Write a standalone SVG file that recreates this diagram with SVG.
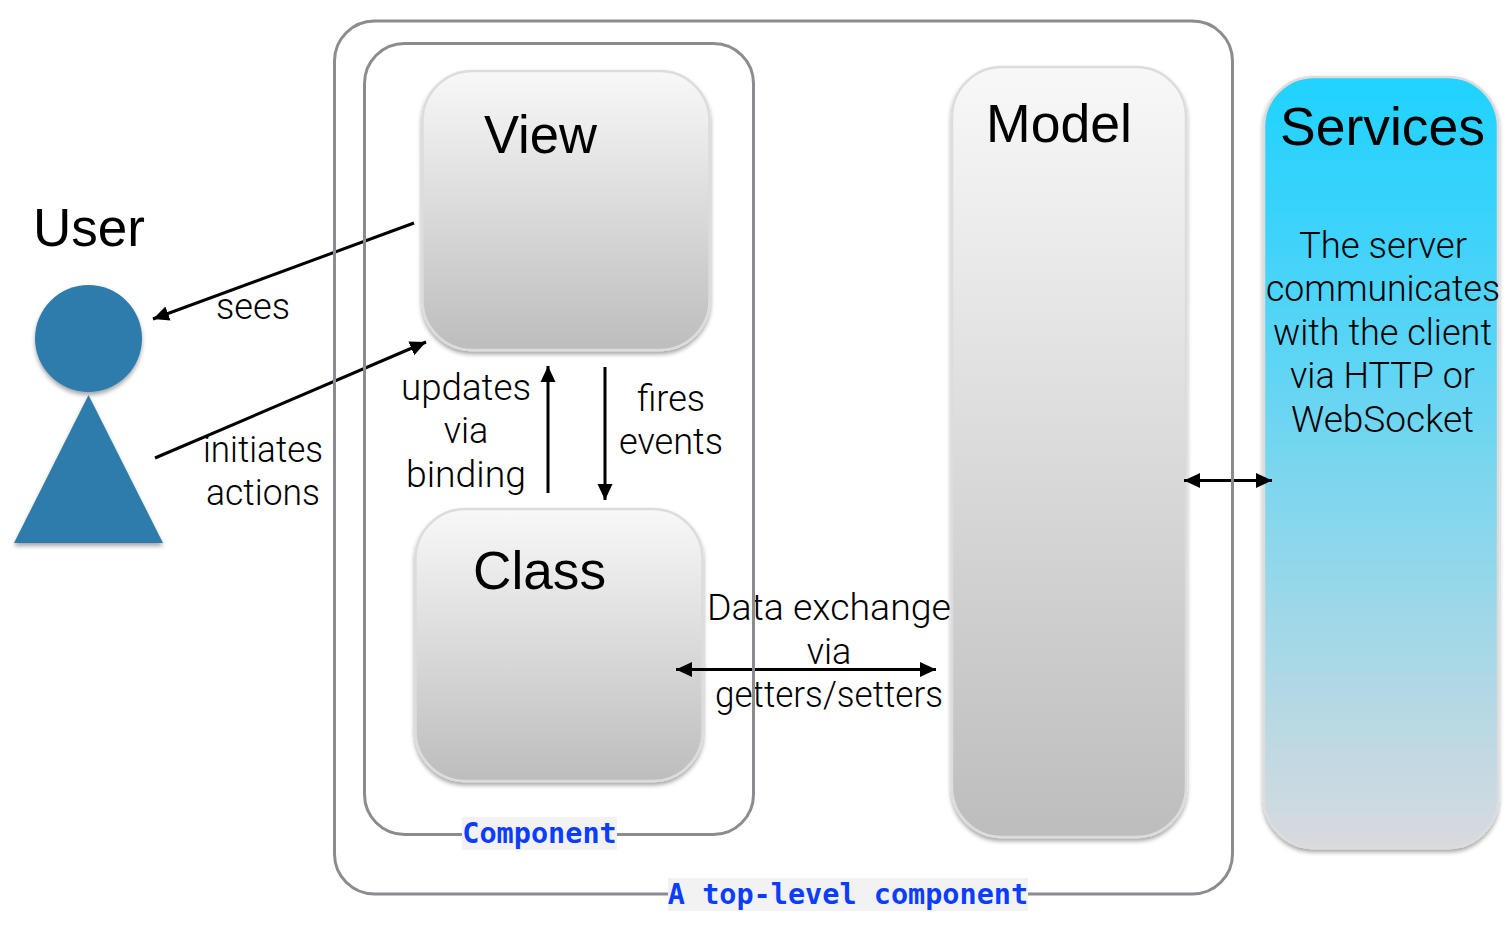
<svg xmlns="http://www.w3.org/2000/svg" width="1512" height="930" viewBox="0 0 1512 930">
<style>
.box{stroke:#dcdcdc;stroke-width:2.5;filter:url(#sh)}
.frame{fill:none;stroke:#8a8c90;stroke-width:3}
.title{font-family:"Liberation Sans",Arial,sans-serif;fill:#000;text-anchor:middle;font-size:54px}
.t{font-family:Roboto,"Liberation Sans",sans-serif;font-weight:300;font-size:36px;fill:#000;text-anchor:middle}
.code{font-family:"DejaVu Sans Mono","Liberation Mono",monospace;font-weight:700;font-size:28.500px;fill:#0b3dff;text-anchor:middle}
.lab{fill:#f2f2f2}
.a{fill:none;stroke:#000;stroke-width:3}
.user{fill:#2f7cab;filter:url(#sh)}
</style>
<defs>
<linearGradient id="g" x1="0" y1="0" x2="0" y2="1"><stop offset="0" stop-color="#f8f8f8"/><stop offset="1" stop-color="#bdbdbd"/></linearGradient>
<linearGradient id="b" x1="0" y1="0" x2="0" y2="1"><stop offset="0" stop-color="#20d2ff"/><stop offset="0.2" stop-color="#3dd3fb"/><stop offset="0.5" stop-color="#78d6ef"/><stop offset="1" stop-color="#d8dade"/></linearGradient>
<filter id="sh" x="-10%" y="-10%" width="120%" height="120%"><feDropShadow dx="0" dy="3" stdDeviation="2" flood-color="#000" flood-opacity="0.35"/></filter>
<marker id="ah" markerUnits="userSpaceOnUse" markerWidth="18" markerHeight="16" refX="16" refY="8" orient="auto-start-reverse"><path d="M0 0.500L16 8L0 15.500Z" fill="#000"/></marker>
</defs>
<g id="view"><rect class="box" x="422.500" y="71" width="287" height="279" rx="50" fill="url(#g)"/><text class="title" x="540.500" y="153" textLength="113" lengthAdjust="spacingAndGlyphs">View</text></g>
<g id="class"><rect class="box" x="415.500" y="509" width="287" height="272" rx="50" fill="url(#g)"/><text class="title" x="539.500" y="589" textLength="133" lengthAdjust="spacingAndGlyphs">Class</text></g>
<g id="model"><rect class="box" x="952" y="67" width="234" height="770" rx="50" fill="url(#g)"/><text class="title" x="1059" y="142" textLength="146" lengthAdjust="spacingAndGlyphs">Model</text></g>
<g id="services"><rect class="box" x="1264" y="77" width="234" height="771" rx="50" fill="url(#b)"/><text class="title" x="1382.500" y="145" textLength="205" lengthAdjust="spacingAndGlyphs">Services</text>
<text class="t" x="1383" y="258" textLength="168" lengthAdjust="spacingAndGlyphs">The server</text><text class="t" x="1383" y="301" textLength="234" lengthAdjust="spacingAndGlyphs">communicates</text><text class="t" x="1382.500" y="345" textLength="219" lengthAdjust="spacingAndGlyphs">with the client</text><text class="t" x="1382.500" y="388" textLength="185" lengthAdjust="spacingAndGlyphs">via HTTP or</text><text class="t" x="1382.500" y="432" textLength="183" lengthAdjust="spacingAndGlyphs">WebSocket</text></g>
<g id="user"><circle class="user" cx="88.500" cy="338.500" r="53.500"/><path class="user" d="M88.500 395L163 543H14Z"/><text class="title" x="89" y="246" textLength="112" lengthAdjust="spacingAndGlyphs">User</text></g>
<g id="labels"><text class="t" x="253" y="319" textLength="74" lengthAdjust="spacingAndGlyphs">sees</text><text class="t" x="263" y="462" textLength="120" lengthAdjust="spacingAndGlyphs">initiates</text><text class="t" x="263" y="505" textLength="114" lengthAdjust="spacingAndGlyphs">actions</text>
<text class="t" x="466" y="400" textLength="130" lengthAdjust="spacingAndGlyphs">updates</text><text class="t" x="466" y="443">via</text><text class="t" x="466" y="487" textLength="120" lengthAdjust="spacingAndGlyphs">binding</text>
<text class="t" x="671" y="411">fires</text><text class="t" x="671" y="454" textLength="104" lengthAdjust="spacingAndGlyphs">events</text>
<text class="t" x="829" y="620" textLength="244" lengthAdjust="spacingAndGlyphs">Data exchange</text><text class="t" x="829" y="664">via</text><text class="t" x="829" y="707" textLength="228" lengthAdjust="spacingAndGlyphs">getters/setters</text></g>
<g id="connectors">
<path class="a" marker-end="url(#ah)" d="M414 223L153 319"/>
<path class="a" marker-end="url(#ah)" d="M155 458L426 342"/>
<path class="a" marker-end="url(#ah)" d="M548 493V366"/>
<path class="a" marker-end="url(#ah)" d="M605 367V500"/>
<path class="a" marker-start="url(#ah)" marker-end="url(#ah)" d="M676 669.500H936"/>
<path class="a" marker-start="url(#ah)" marker-end="url(#ah)" d="M1184 480.500H1272"/>
</g>
<g id="component"><rect class="frame" x="364.500" y="43.500" width="389" height="791" rx="40"/><rect class="lab" x="462" y="817" width="155" height="33"/><text class="code" x="539.500" y="843">Component</text></g>
<g id="top-level"><rect class="frame" x="334.500" y="21" width="898" height="873" rx="40"/><rect class="lab" x="668" y="878" width="360" height="33"/><text class="code" x="848" y="904">A top-level component</text></g>
</svg>
